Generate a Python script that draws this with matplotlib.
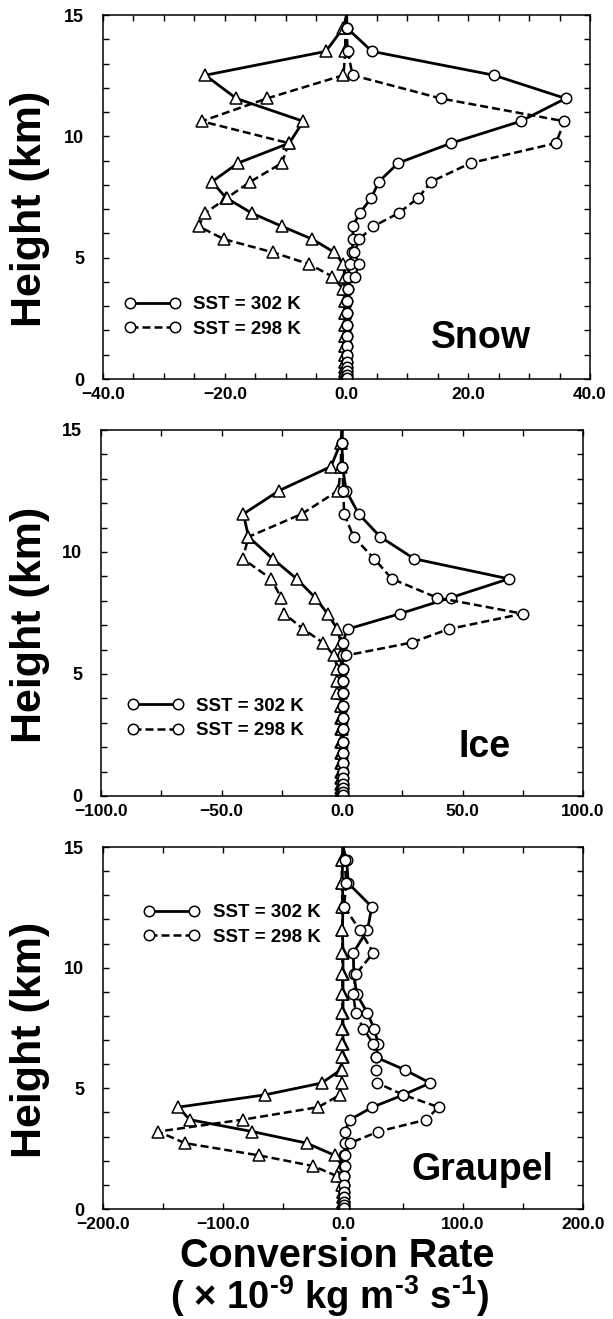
import matplotlib
matplotlib.use("Agg")
import matplotlib.pyplot as plt
from matplotlib.lines import Line2D
from matplotlib.ticker import FuncFormatter, MultipleLocator

plt.rcParams['font.family'] = ['Liberation Sans', 'DejaVu Sans']
plt.rcParams['font.weight'] = 'bold'
plt.rcParams['mathtext.fontset'] = 'custom'
plt.rcParams['mathtext.rm'] = 'Liberation Sans:bold'
plt.rcParams['mathtext.bf'] = 'Liberation Sans:bold'
plt.rcParams['mathtext.default'] = 'bf'

# model levels (km), top to bottom; first level is the model top
heights = [15.0, 14.48, 13.5, 12.52, 11.56, 10.62, 9.72, 8.9, 8.13, 7.47, 6.84,
           6.29, 5.76, 5.22, 4.73, 4.22, 3.70, 3.21, 2.73, 2.22, 1.78, 1.37,
           1.0, 0.72, 0.5, 0.31, 0.16, 0.05]

# Snow
snow_tri_302 = [0, -0.5, -3.4, -23.2, -18.1, -7.1, -9.4, -17.8, -22.1, -19.8, -15.6,
                -10.6, -5.6, -2.0, -0.5, -0.3, -0.3, -0.2, -0.2, -0.2, -0.2, -0.2,
                -0.2, -0.2, -0.2, -0.2, -0.2, -0.2]
snow_tri_298 = [0, -0.2, -0.2, -0.5, -13.1, -23.8, -9.5, -10.6, -15.8, -19.6, -23.2,
                -24.3, -20.1, -12.1, -6.1, -2.3, -0.5, -0.3, -0.2, -0.2, -0.2, -0.2,
                -0.2, -0.2, -0.2, -0.2, -0.2, -0.2]
snow_cir_302 = [0, 0, 4.2, 24.2, 36.0, 28.6, 17.2, 8.5, 5.3, 4.1, 2.2,
                1.0, 1.1, 0.9, 0.5, 0.3, 0.2, 0.1, 0.1, 0.1, 0.1, 0.1,
                0.1, 0.1, 0.1, 0.1, 0.1, 0.1]
snow_cir_298 = [0, 0, 0.2, 1.0, 15.5, 35.8, 34.4, 20.4, 13.9, 11.8, 8.6,
                4.4, 2.1, 1.3, 2.0, 1.4, 0.3, 0.1, 0.1, 0.1, 0.1, 0.1,
                0.1, 0.1, 0.1, 0.1, 0.1, 0.1]

# Ice
ice_tri_302 = [0, -0.5, -4.6, -26.0, -40.9, -38.8, -28.7, -18.8, -11.1, -6.0, -1.9,
               -0.5, -0.3, -0.3, -0.3, -0.3, -0.3, -0.3, -0.3, -0.3, -0.3, -0.3,
               -0.3, -0.3, -0.3, -0.3, -0.3, -0.3]
ice_tri_298 = [0, -0.3, -0.5, -1.5, -16.7, -38.8, -41.2, -29.4, -25.3, -24.0, -16.0,
               -8.0, -3.3, -1.9, -1.9, -1.9, -0.6, -0.2, -0.2, -0.2, -0.2, -0.2,
               -0.2, -0.2, -0.2, -0.2, -0.2, -0.2]
ice_cir_302 = [0, 0, 0.2, 1.7, 6.9, 15.9, 30.0, 69.2, 45.2, 24.0, 2.3,
               0.3, 0.3, 0.3, 0.3, 0.3, 0.3, 0.3, 0.3, 0.3, 0.3, 0.3,
               0.3, 0.3, 0.3, 0.3, 0.3, 0.3]
ice_cir_298 = [0, 0.2, 0.2, 0.5, 0.9, 4.8, 13.4, 20.7, 39.4, 75.0, 44.2,
               29.0, 1.7, 0.5, 0.5, 0.5, 0.5, 0.5, 0.5, 0.5, 0.5, 0.5,
               0.5, 0.5, 0.5, 0.5, 0.5, 0.5]

# Graupel
grp_tri_302 = [0, -0.5, -0.5, 0, -0.5, 0, 0, 0, 0, 0, 0,
               0, -2.0, -17.8, -65.0, -137.4, -127.7, -75.7, -30.3, -6.7, -0.5, 0,
               0, 0, 0, 0, 0, 0]
grp_tri_298 = [0, -1.0, -1.0, -0.5, -0.5, -0.5, -0.5, -0.5, -0.5, -0.5, -0.5,
               -1.0, -1.0, -1.0, -2.5, -20.6, -83.7, -154.0, -131.8, -69.8, -24.8, -5.3,
               -0.5, 0, 0, 0, 0, 0]
grp_cir_302 = [0, 3.0, 4.4, 24.0, 20.4, 8.6, 9.0, 11.4, 20.3, 25.9, 29.5,
               27.5, 51.7, 72.6, 50.3, 24.5, 5.8, 1.5, 1.5, 1.2, 1.2, 1.2,
               1.2, 1.0, 1.0, 1.0, 1.0, 1.0]
grp_cir_298 = [0, 1.5, 2.5, 1.0, 14.0, 25.3, 10.6, 8.6, 10.6, 17.0, 25.3,
               27.5, 27.5, 28.6, 50.3, 79.6, 69.3, 29.5, 5.8, 2.0, 1.5, 1.2,
               1.2, 1.0, 1.0, 1.0, 1.0, 1.0]

labels = ['SST = 302 K', 'SST = 298 K']

W, H = 613, 1319
fig = plt.figure(figsize=(W / 100, H / 100), dpi=100)

# (left, right, top, bottom) in pixels, xlim, x tick step, minor step, name pos, legend pos
panels = [
    ((103, 590, 15, 379), 40, 20, 5, 'Snow', (0.776, 0.085), (0.043, 0.170),
     (snow_tri_302, snow_tri_298, snow_cir_302, snow_cir_298)),
    ((101, 583, 430, 796), 100, 50, 25, 'Ice', (0.795, 0.107), (0.054, 0.212),
     (ice_tri_302, ice_tri_298, ice_cir_302, ice_cir_298)),
    ((103, 583, 847, 1209), 200, 100, 50, 'Graupel', (0.79, 0.08), (0.085, 0.785),
     (grp_tri_302, grp_tri_298, grp_cir_302, grp_cir_298)),
]

solid = dict(color='black', lw=2.0, markerfacecolor='white', markeredgecolor='black',
             markeredgewidth=1.1)
dashed = dict(solid, dashes=(3.2, 1.6), lw=1.8)
mk = slice(1, None)


def fmt_x(v, pos):
    return f"{v:.1f}".replace('-', '\u2212')


for (l, r, t, b), xmax, major, minor, name, npos, lpos, series in panels:
    ax = fig.add_axes([l / W, 1 - b / H, (r - l) / W, (b - t) / H])
    tri302, tri298, cir302, cir298 = series
    ax.plot(tri302, heights, marker='^', markersize=8.5, markevery=mk, **solid)
    ax.plot(tri298, heights, marker='^', markersize=8.5, markevery=mk, **dashed)
    ax.plot(cir302, heights, marker='o', markersize=7.5, markevery=mk, **solid)
    ax.plot(cir298, heights, marker='o', markersize=7.5, markevery=mk, **dashed)

    ax.set_xlim(-xmax, xmax)
    ax.set_ylim(0, 15)
    ax.xaxis.set_major_locator(MultipleLocator(major))
    ax.xaxis.set_minor_locator(MultipleLocator(minor))
    ax.yaxis.set_major_locator(MultipleLocator(5))
    ax.yaxis.set_minor_locator(MultipleLocator(1))
    ax.xaxis.set_major_formatter(FuncFormatter(fmt_x))
    ax.tick_params(which='both', direction='in', length=4, width=1, top=True, right=True)
    ax.tick_params(axis='x', labelsize=12.5, pad=6)
    ax.tick_params(axis='y', labelsize=13, pad=13.5)
    for s in ax.spines.values():
        s.set_linewidth(1.1)

    ax.text(npos[0], npos[1], name, transform=ax.transAxes, ha='center',
            va='baseline', fontsize=27, fontweight='bold')

    handles = [Line2D([], [], marker='o', markersize=7.5, **solid),
               Line2D([], [], marker='o', markersize=7.5, **dashed)]
    ax.legend(handles, labels, loc='center left', bbox_to_anchor=lpos,
              frameon=False, numpoints=2, handlelength=3.0, handletextpad=0.7,
              borderpad=0, borderaxespad=0, labelspacing=0.4,
              prop={'size': 13.5, 'weight': 'bold'})

    fig.text(30 / W, 1 - ((t + b) / 2 + 12) / H, 'Height (km)', rotation=90,
             ha='center', va='center', fontsize=31, fontweight='bold')

fig.text(337 / W, 1 - 1267 / H, 'Conversion Rate', ha='center', va='baseline',
         fontsize=28.5, fontweight='bold')
fig.text(330 / W, 1 - 1309 / H,
         '( \u00d7 10$^{\u20109}$ kg m$^{\u20103}$ s$^{\u20101}$)',
         ha='center', va='baseline', fontsize=27.5, fontweight='bold')

fig.savefig('out.png', dpi=100)
